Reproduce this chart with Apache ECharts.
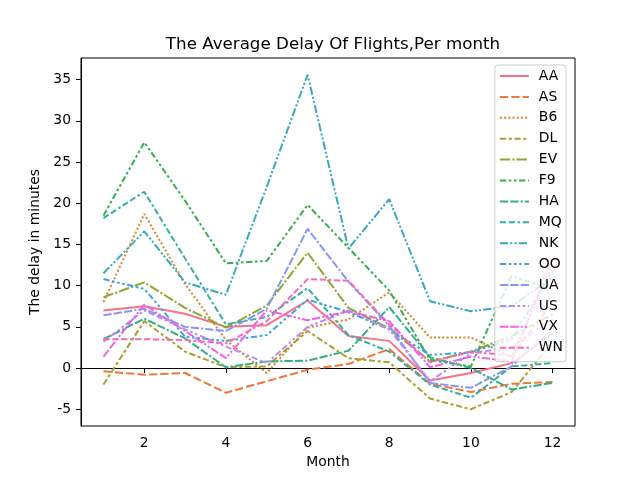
<!DOCTYPE html>
<html>
<head>
<meta charset="utf-8">
<script src="https://cdn.jsdelivr.net/npm/echarts@6/dist/echarts.min.js"></script>
<style>
  html, body { margin: 0; padding: 0; background: #fff; }
  #main { width: 640px; height: 480px; }
</style>
</head>
<body>
<div id="main"></div>
<script>
// data
var months = [1, 2, 3, 4, 5, 6, 7, 8, 9, 10, 11, 12];
var carriers = ['AA', 'AS', 'B6', 'DL', 'EV', 'F9', 'HA', 'MQ', 'NK', 'OO', 'UA', 'US', 'VX', 'WN'];

var AA = [7.0, 7.5, 6.6, 5.0, 5.2, 8.2, 3.9, 3.3, -1.5, -0.6, 0.6, 4.2];
var AS = [-0.4, -0.8, -0.6, -3.0, -1.6, -0.2, 0.5, 2.3, -1.9, -2.9, -1.9, -1.7];
var B6 = [8.0, 18.7, 10.2, 3.4, -0.6, 4.9, 5.9, 9.2, 3.7, 3.7, 1.4, 12.5];
var DL = [-2.0, 5.7, 2.0, 0.1, 0.2, 4.5, 1.2, 0.7, -3.7, -5.0, -2.9, 3.2];
var EV = [8.6, 10.4, 7.3, 4.9, 7.6, 14.0, 7.3, 4.8, 0.8, 2.0, 3.9, 6.5];
var F9 = [18.5, 27.4, 20.3, 12.7, 13.0, 19.8, 14.6, 9.4, 1.0, 0.2, 11.2, 9.5];
var HA = [3.5, 6.0, 3.6, 0.1, 0.8, 0.9, 2.1, 7.4, 1.3, 0.0, -2.6, -1.8];
var MQ = [18.2, 21.4, 13.3, 5.3, 6.2, 9.7, 4.0, 2.0, -2.0, -3.6, 0.2, 0.6];
var NK = [11.5, 16.6, 10.4, 8.9, 22.0, 35.6, 14.5, 20.5, 8.1, 6.9, 7.5, 11.0];
var OO = [10.8, 9.6, 3.8, 3.3, 4.0, 8.3, 6.8, 4.7, 1.6, 1.9, 3.5, 11.8];
var UA = [6.4, 7.2, 5.0, 4.5, 7.2, 16.9, 10.5, 5.1, -1.8, -2.4, 0.2, 4.8];
var US = [3.2, 7.0, 4.7, 2.6, 0.6, 5.0, 7.0, 4.7, -1.6, 1.8, 2.5, 6.0];
var VX = [1.4, 7.7, 4.5, 1.2, 7.0, 5.8, 6.9, 5.7, 0.1, 1.4, 0.8, 13.5];
var WN = [3.5, 3.5, 3.4, 3.0, 5.7, 10.8, 10.6, 5.3, 0.7, 2.0, 1.5, 8.0];

var values = [AA, AS, B6, DL, EV, F9, HA, MQ, NK, OO, UA, US, VX, WN];

var xTicks = [2, 4, 6, 8, 10, 12];
var yTicks = [-5, 0, 5, 10, 15, 20, 25, 30, 35];

// husl colours and seaborn dash patterns (in px)
var colors = ['#f77189', '#f0773a', '#d38c32', '#ae9d31', '#8da731', '#36ae4b', '#34ae82',
              '#36ada4', '#38aabc', '#3ba3e0', '#8597f4', '#b88cf4', '#f062e7', '#f66bb5'];
var dashes = [
    'solid',
    [8.3, 3.1],
    [2.1, 2.1],
    [6.25, 2.6, 3.1, 2.6],
    [10.4, 2.1, 2.1, 2.1],
    [6.25, 2.6, 2.6, 2.6, 2.6, 2.6],
    [8.3, 2.1, 8.3, 2.1, 2.1, 2.1],
    [6.25, 2.6, 6.25, 2.6, 2.6, 2.6],
    [8.3, 2.1, 2.1, 2.1, 2.1, 2.1],
    [6.25, 2.6, 2.6, 2.6, 2.6, 2.6, 2.6, 2.6],
    [8.3, 2.1, 8.3, 2.1, 8.3, 2.1, 2.1, 2.1],
    [6.25, 2.6, 6.25, 2.6, 2.6, 2.6, 2.6, 2.6],
    [8.3, 2.1, 8.3, 2.1, 2.1, 2.1, 2.1, 2.1],
    [6.25, 2.6, 6.25, 2.6, 6.25, 2.6, 2.6, 2.6]
];

var font = 'DejaVu Sans';

var series = [];
for (var i = 0; i < carriers.length; i++) {
    var pts = [];
    for (var j = 0; j < months.length; j++) {
        pts.push([months[j], values[i][j]]);
    }
    series.push({
        name: carriers[i],
        type: 'line',
        data: pts,
        symbol: 'none',
        animation: false,
        lineStyle: { color: colors[i], width: 2, type: dashes[i] },
        itemStyle: { color: colors[i] }
    });
}

var myChart = echarts.init(document.getElementById('main'));

var option = {
    backgroundColor: '#fff',
    animation: false,
    title: {
        text: 'The Average Delay Of Flights,Per month',
        left: 328,
        textAlign: 'center',
        top: 31,
        textStyle: { fontFamily: font, fontSize: 16.7, fontWeight: 'normal', color: '#000' }
    },
    grid: {
        left: 81, right: 65, top: 58, bottom: 54,
        show: true, borderColor: '#000', borderWidth: 1
    },
    legend: {
        orient: 'vertical',
        right: 74,
        top: 65,
        padding: [4, 3, 7, 4],
        itemWidth: 29,
        itemHeight: 14,
        itemGap: 6.9,
        backgroundColor: 'rgba(255,255,255,0.8)',
        borderColor: '#cccccc',
        borderWidth: 1,
        borderRadius: 3,
        itemStyle: { opacity: 0 },
        textStyle: { fontFamily: font, fontSize: 13.9, color: '#000', padding: [0, 0, 0, 5] },
        data: carriers
    },
    xAxis: {
        type: 'value',
        min: 0.45,
        max: 12.55,
        name: 'Month',
        nameLocation: 'middle',
        nameGap: 29,
        nameTextStyle: { fontFamily: font, fontSize: 13.9, color: '#000' },
        axisLine: { show: true, lineStyle: { color: '#000', width: 1 } },
        axisTick: { show: true, length: 5, customValues: xTicks, lineStyle: { color: '#000' } },
        axisLabel: { customValues: xTicks, margin: 10, fontFamily: font, fontSize: 13.9, color: '#000' },
        splitLine: { show: false }
    },
    yAxis: {
        type: 'value',
        min: -7.03,
        max: 37.63,
        name: 'The delay in minutes',
        nameLocation: 'middle',
        nameGap: 38,
        nameTextStyle: { fontFamily: font, fontSize: 13.9, color: '#000' },
        axisLine: { show: true, lineStyle: { color: '#000', width: 1 } },
        axisTick: { show: true, length: 5, customValues: yTicks, lineStyle: { color: '#000' } },
        axisLabel: { customValues: yTicks, margin: 10, fontFamily: font, fontSize: 13.9, color: '#000' },
        splitLine: { show: false }
    },
    series: series
};

myChart.setOption(option);
</script>
</body>
</html>
